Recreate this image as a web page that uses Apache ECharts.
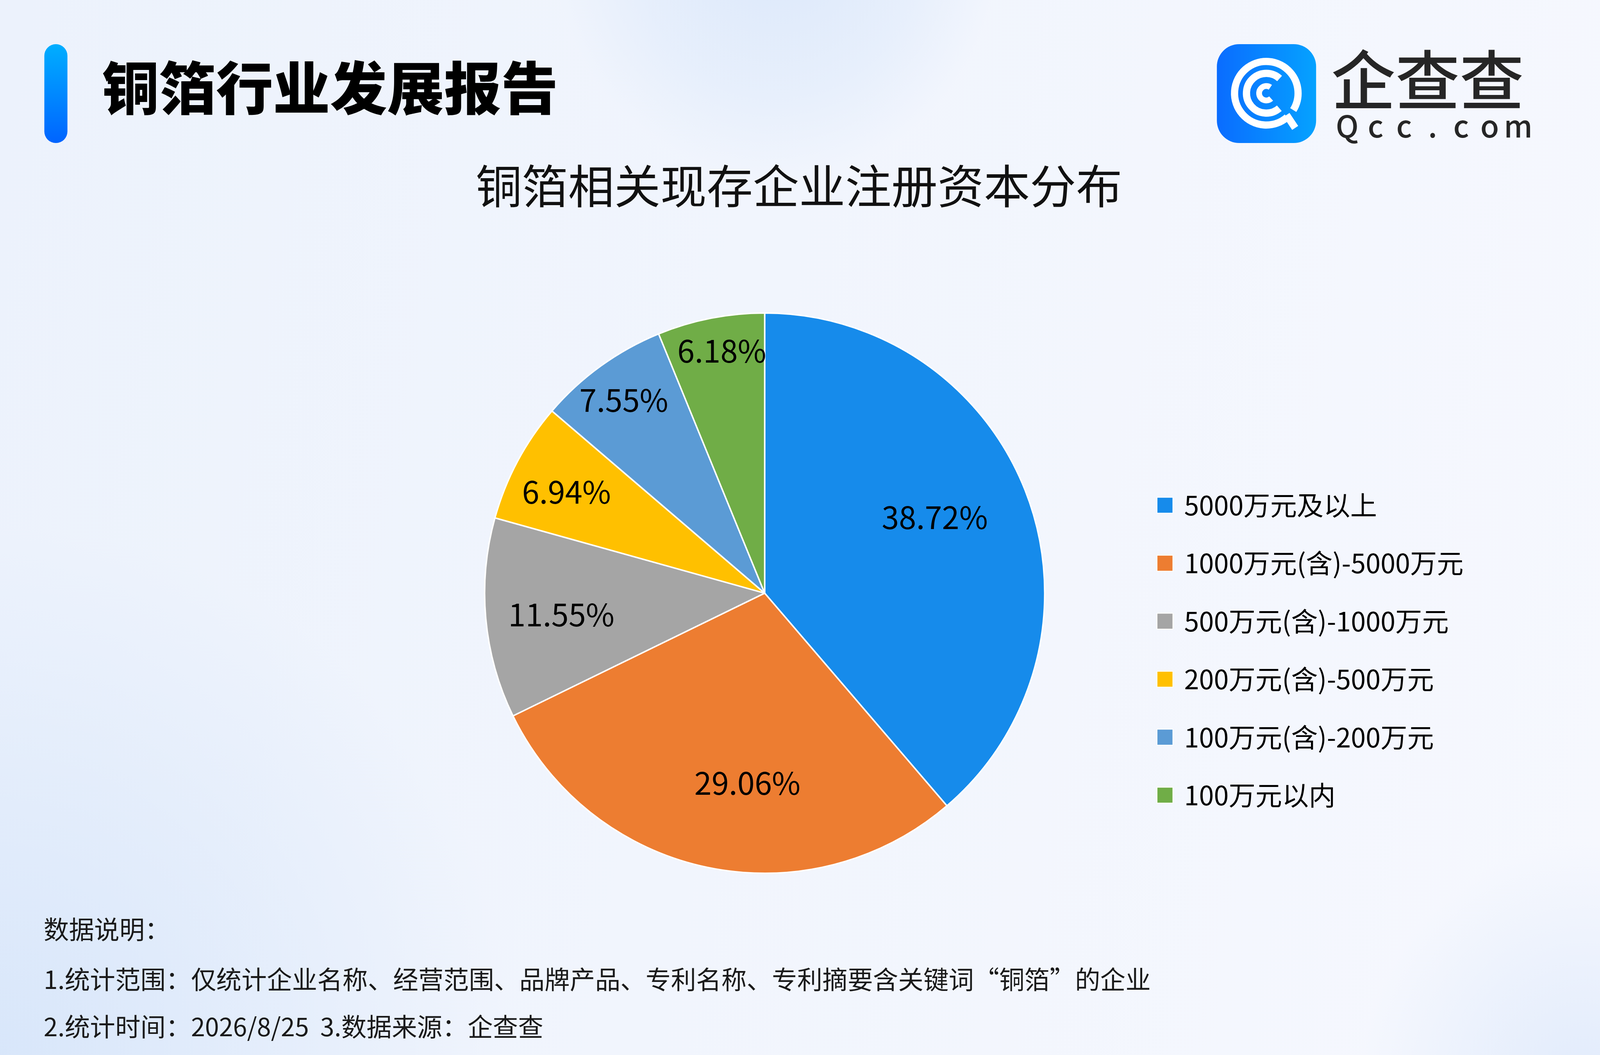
<!DOCTYPE html>
<html lang="zh">
<head>
<meta charset="UTF-8">
<title>铜箔行业发展报告</title>
<script src="https://cdn.jsdelivr.net/npm/echarts@6/dist/echarts.min.js"></script>
<style>
    html, body { margin: 0; padding: 0; width: 100%; height: 100%; overflow: hidden; }
    body {
        background:
            radial-gradient(ellipse 14% 23% at 48.5% -6%, rgba(218, 231, 250, 0.95) 0, rgba(224, 235, 251, 0.6) 65%, rgba(240, 245, 253, 0) 100%),
            radial-gradient(ellipse 14% 24% at 99% 104%, rgba(222, 233, 251, 0.9) 0, rgba(226, 236, 252, 0) 100%),
            radial-gradient(ellipse 32% 50% at 0 100%, rgba(214, 229, 250, 0.9) 0, rgba(222, 234, 251, 0) 100%),
            linear-gradient(100deg, #ecf2fc 0%, #f1f5fd 45%, #f6f8fe 100%);
    }
    #chart { width: 100%; height: 100%; }
</style>
</head>
<body>
<div id="chart"></div>
<script>
    // 注册资本分布（%）
    var categories = ['5000万元及以上', '1000万元(含)-5000万元', '500万元(含)-1000万元',
        '200万元(含)-500万元', '100万元(含)-200万元', '100万元以内'];
    var shares = [38.72, 29.06, 11.55, 6.94, 7.55, 6.18];
    var colors = ['#168BEB', '#ED7D31', '#A5A5A5', '#FFC000', '#5B9BD5', '#70AD47'];

    var notes = [
        '数据说明：',
        '1.统计范围：仅统计企业名称、经营范围、品牌产品、专利名称、专利摘要含关键词“铜箔”的企业',
        '2.统计时间：2026/8/25  3.数据来源：企查查'
    ];

    var FONT = '"Noto Sans CJK SC", "Noto Sans", sans-serif';

    // 版式按 4800x2700 设计：位置按宽/高分别换算，尺寸统一缩放
    var kx = window.innerWidth / 4800, ky = window.innerHeight / 2700;
    var ks = Math.sqrt(kx * ky);
    function X(v) { return v * kx; }
    function Y(v) { return v * ky; }
    function S(v) { return v * ks; }
    function font(weight, size) { return weight + ' ' + S(size) + 'px ' + FONT; }
    function rad(d) { return d * Math.PI / 180; }

    var pieCx = X(2294), pieCy = Y(1518), pieR = S(776);
    // 标签放置：距圆心的半径比例，以及相对扇区中线的偏转角度
    var labelReach = [0.665, 0.68, 0.73, 0.795, 0.853, 0.879];
    var labelTurn = [-3.7, -6.5, -0.8, -1.0, -0.3, 1.1];

    var total = shares.reduce(function (s, v) { return s + v; }, 0);
    var midAngle = [];
    var acc = 0;
    shares.forEach(function (v) {
        midAngle.push((acc + v / 2) / total * 360);
        acc += v;
    });

    var pieData = categories.map(function (name, i) {
        return { name: name, value: shares[i] };
    });

    // 企查查 logo，以右上角 (4600,113) 为锚点
    var ox = X(4600), oy = Y(113);
    function LX(v) { return ox + S(v - 4600); }
    function LY(v) { return oy + S(v - 113); }
    var lx = LX(3860), ly = LY(249);
    var logo = [
        {
            type: 'rect',
            shape: { x: LX(3723), y: LY(113), width: S(275), height: S(274), r: S(62) },
            style: {
                fill: new echarts.graphic.LinearGradient(0, 0, 1, 0, [
                    { offset: 0, color: '#0A6CFF' },
                    { offset: 1, color: '#05A2FF' }
                ])
            }
        },
        {
            type: 'arc',
            shape: { cx: lx, cy: ly, r: S(88), startAngle: rad(49), endAngle: rad(392) },
            style: { stroke: '#fff', lineWidth: S(20), fill: null }
        },
        {
            type: 'line',
            shape: { x1: lx + S(56), y1: ly + S(60), x2: lx + S(80), y2: ly + S(96) },
            style: { stroke: '#fff', lineWidth: S(20) }
        },
        {
            type: 'arc',
            shape: { cx: lx, cy: ly, r: S(55), startAngle: rad(49), endAngle: rad(312) },
            style: { stroke: '#fff', lineWidth: S(20), fill: null }
        },
        {
            type: 'arc',
            shape: { cx: lx, cy: ly, r: S(20), startAngle: rad(48), endAngle: rad(304) },
            style: { stroke: '#fff', lineWidth: S(16), fill: null }
        },
        {
            type: 'text',
            x: LX(4040),
            y: LY(212),
            style: { text: '企查查', font: font(500, 178), fill: '#262626', verticalAlign: 'middle' }
        }
    ];
    'Qcc.com'.split('').forEach(function (ch, i) {
        logo.push({
            type: 'text',
            x: LX(4084 + i * 79),
            y: LY(340),
            style: { text: ch, font: font(500, 84), fill: '#262626', align: 'center', verticalAlign: 'middle' }
        });
    });

    // 左上角标题，以 (133,113) 为锚点
    var tx = X(133), ty = Y(113);
    var graphics = [
        {
            type: 'rect',
            shape: { x: tx, y: ty, width: S(64), height: S(274), r: S(32) },
            style: {
                fill: new echarts.graphic.LinearGradient(0, 0, 0, 1, [
                    { offset: 0, color: '#00AEFF' },
                    { offset: 1, color: '#0064FF' }
                ])
            }
        },
        {
            type: 'text',
            x: tx + S(293 - 133),
            y: ty + S(234 - 113),
            style: { text: '铜箔行业发展报告', font: font(900, 158), fill: '#000', verticalAlign: 'middle' }
        },
        {
            type: 'text',
            x: X(2397),
            y: Y(476),
            style: { text: '铜箔相关现存企业注册资本分布', font: font(400, 128), fill: '#111', align: 'center', verticalAlign: 'middle' }
        }
    ].concat(logo);

    var noteY = [2378, 2506, 2627];
    notes.forEach(function (t, i) {
        graphics.push({
            type: 'text',
            x: X(131),
            y: Y(noteY[i]),
            style: { text: t, font: font(400, 70), fill: '#1a1a1a', verticalAlign: 'middle' }
        });
    });

    var myChart = echarts.init(document.getElementById('chart'));
    var option = {
        backgroundColor: 'transparent',
        animation: false,
        color: colors,
        textStyle: { fontFamily: FONT },
        legend: {
            orient: 'vertical',
            left: X(3464),
            top: Y(1288) - S(40),
            icon: 'rect',
            itemWidth: S(44),
            itemHeight: S(44),
            itemGap: Y(148.4) - S(80),
            data: categories,
            textStyle: {
                fontSize: S(74),
                lineHeight: S(80),
                color: '#000',
                fontFamily: FONT,
                padding: [0, 0, 0, S(26)]
            }
        },
        graphic: graphics,
        series: [{
            type: 'pie',
            center: [pieCx, pieCy],
            radius: [0, pieR],
            startAngle: 90,
            clockwise: true,
            avoidLabelOverlap: false,
            itemStyle: { borderColor: '#fff', borderWidth: S(4) },
            emphasis: { scale: false },
            label: {
                show: true,
                position: 'inside',
                fontSize: S(86),
                color: '#000',
                fontFamily: FONT,
                formatter: function (p) { return p.value.toFixed(2) + '%'; }
            },
            labelLine: { show: false },
            labelLayout: function (p) {
                var i = p.dataIndex;
                var a = rad(midAngle[i] + labelTurn[i]);
                var d = pieR * labelReach[i];
                return {
                    x: pieCx + d * Math.sin(a),
                    y: pieCy - d * Math.cos(a),
                    align: 'center',
                    verticalAlign: 'middle'
                };
            },
            data: pieData
        }]
    };
    myChart.setOption(option);
</script>
</body>
</html>
